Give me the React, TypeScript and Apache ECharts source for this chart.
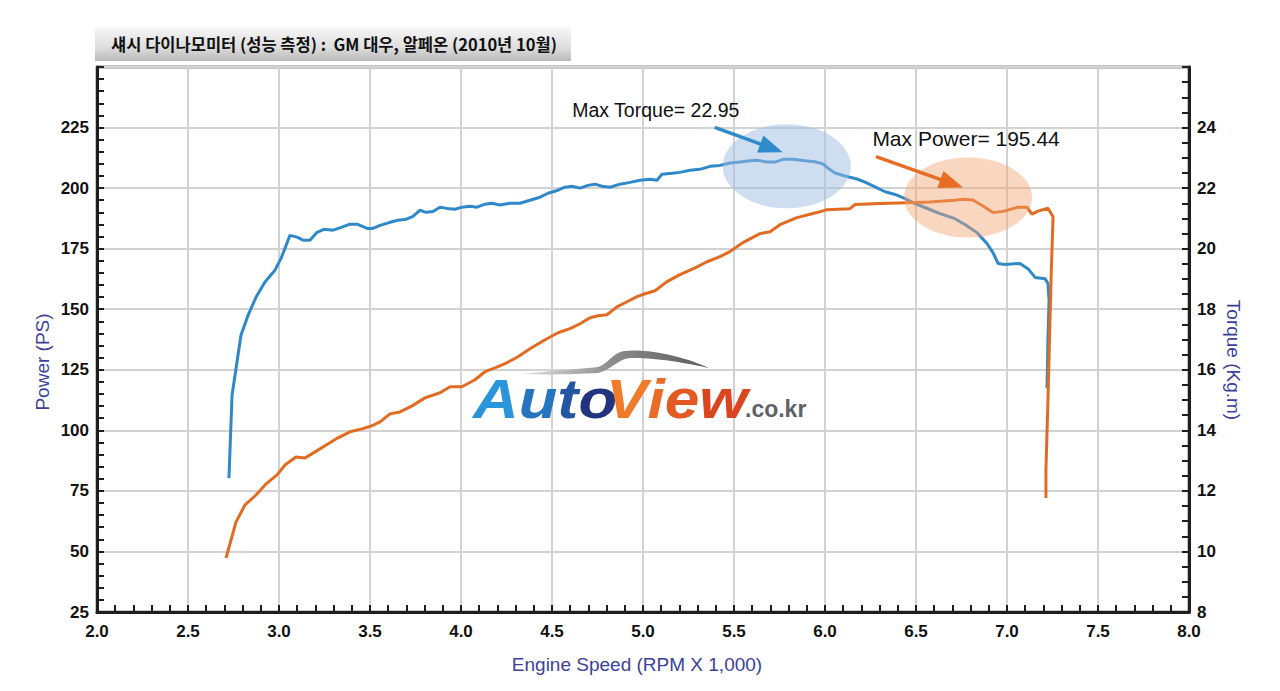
import React, { useEffect, useRef } from "react";
import * as echarts from "echarts";

const titleText = "섀시 다이나모미터 (성능 측정) :  GM 대우, 알페온 (2010년 10월)";
const xAxisName = "Engine Speed (RPM X 1,000)";
const powerAxisName = "Power (PS)";
const torqueAxisName = "Torque (Kg.m)";
const maxTorqueLabel = "Max Torque= 22.95";
const maxPowerLabel = "Max Power= 195.44";

const torqueRpm = [
  2.725, 2.742, 2.769, 2.791, 2.83, 2.874, 2.923, 2.978, 3.011, 3.033, 3.06, 3.099, 3.132, 3.17,
  3.209, 3.247, 3.297, 3.346, 3.39, 3.429, 3.484, 3.516, 3.555, 3.61, 3.654, 3.698, 3.736, 3.775,
  3.808, 3.846, 3.885, 3.923, 3.967, 4.005, 4.049, 4.088, 4.132, 4.17, 4.214, 4.269, 4.324, 4.379,
  4.434, 4.478, 4.533, 4.571, 4.61, 4.654, 4.698, 4.736, 4.775, 4.819, 4.874, 4.929, 4.984, 5.038,
  5.077, 5.104, 5.159, 5.203, 5.258, 5.313, 5.368, 5.423, 5.478, 5.533, 5.588, 5.626, 5.681, 5.725,
  5.769, 5.824, 5.89, 5.945, 5.989, 6.016, 6.055, 6.11, 6.176, 6.22, 6.275, 6.33, 6.385, 6.44,
  6.495, 6.549, 6.632, 6.714, 6.769, 6.835, 6.89, 6.923, 6.951, 6.989, 7.071, 7.115, 7.154, 7.209,
  7.225, 7.231, 7.225, 7.22,
];
const torqueVal = [
  12.42, 15.16, 16.25, 17.14, 17.8, 18.4, 18.9, 19.29, 19.68, 20.01, 20.44, 20.38, 20.28, 20.28,
  20.54, 20.64, 20.61, 20.71, 20.81, 20.81, 20.67, 20.67, 20.77, 20.87, 20.94, 20.97, 21.07, 21.27,
  21.2, 21.23, 21.37, 21.33, 21.3, 21.37, 21.4, 21.37, 21.47, 21.5, 21.44, 21.5, 21.5, 21.6,
  21.7, 21.83, 21.93, 22.03, 22.06, 22.0, 22.09, 22.13, 22.06, 22.03, 22.13, 22.19, 22.26, 22.29,
  22.26, 22.46, 22.49, 22.52, 22.59, 22.62, 22.72, 22.75, 22.83, 22.86, 22.9, 22.92, 22.86, 22.86,
  22.95, 22.95, 22.9, 22.87, 22.8, 22.66, 22.5, 22.4, 22.3, 22.2, 22.04, 21.88, 21.79, 21.65,
  21.49, 21.36, 21.16, 20.99, 20.8, 20.53, 20.17, 19.87, 19.51, 19.48, 19.51, 19.34, 19.05, 19.01,
  18.85, 18.3, 16.98, 15.39,
];

const powerRpm = [
  2.709, 2.764, 2.813, 2.874, 2.929, 2.989, 3.033, 3.093, 3.143, 3.198, 3.253, 3.324, 3.39, 3.456,
  3.511, 3.555, 3.61, 3.665, 3.731, 3.802, 3.885, 3.94, 4.005, 4.077, 4.132, 4.187, 4.242, 4.313,
  4.379, 4.462, 4.533, 4.599, 4.654, 4.709, 4.753, 4.802, 4.857, 4.912, 4.967, 5.011, 5.066, 5.132,
  5.203, 5.286, 5.352, 5.423, 5.478, 5.549, 5.643, 5.698, 5.753, 5.846, 5.956, 6.011, 6.137, 6.165,
  6.302, 6.451, 6.577, 6.632, 6.714, 6.758, 6.813, 6.868, 6.923, 6.978, 7.06, 7.11, 7.137, 7.17,
  7.225, 7.253, 7.242, 7.225, 7.214, 7.214,
];
const powerVal = [
  47.3, 62.2, 69.2, 73.3, 77.9, 81.6, 85.7, 89.0, 88.6, 91.1, 93.6, 96.9, 99.4, 100.6,
  101.9, 103.5, 106.8, 107.6, 110.1, 113.4, 115.5, 118.0, 118.0, 120.9, 124.2, 125.8, 127.5, 130.4,
  133.7, 137.4, 140.3, 142.0, 144.0, 146.5, 147.3, 147.7, 151.0, 153.1, 155.2, 156.4, 157.6, 161.4,
  164.3, 167.1, 169.6, 171.7, 173.8, 177.5, 181.2, 182.0, 184.9, 187.8, 189.9, 191.1, 191.5, 193.2,
  193.6, 194.0, 194.3, 194.6, 195.0, 195.44, 195.1, 192.6, 189.9, 190.4, 192.1, 192.1, 189.3, 190.5,
  191.7, 188.2, 162.2, 112.6, 83.7, 72.1,
];

const torqueMarker = [5.79, 22.72];
const powerMarker = [6.786, 196.1];

const navy = "#3a429c";
const blue = "#2f89c9";
const orange = "#e26b22";
const labelFont = "'Liberation Sans', Arial, sans-serif";

function arrow(x1: number, y1: number, x2: number, y2: number, color: string) {
  const dx = x2 - x1;
  const dy = y2 - y1;
  const len = Math.sqrt(dx * dx + dy * dy);
  const ux = dx / len;
  const uy = dy / len;
  const nx = -uy;
  const ny = ux;
  const hl = 24;
  const hw = 9;
  const bx = x2 - ux * hl;
  const by = y2 - uy * hl;
  return [
    {
      type: "line",
      z: 120,
      shape: { x1, y1, x2: bx + ux * 2, y2: by + uy * 2 },
      style: { stroke: color, lineWidth: 3.5 },
    },
    {
      type: "polygon",
      z: 120,
      shape: {
        points: [
          [x2, y2],
          [bx + nx * hw, by + ny * hw],
          [bx - nx * hw, by - ny * hw],
        ],
      },
      style: { fill: color },
    },
  ];
}

const logoFont = "italic bold 56px 'Liberation Sans', Arial, sans-serif";

export default function App() {
  const ref = useRef<HTMLDivElement>(null);

  useEffect(() => {
    document.body.style.margin = "0";
    if (!ref.current) return;
    const chart = echarts.init(ref.current, null, { renderer: "svg" });

    const swooshD =
      "M520,374 C550,371 580,369 598,367 C608,364 612,353 624,351 C650,348 688,358 709,368 C688,363 652,357 630,358 C618,359 611,370 598,373 C580,374 550,375 520,374 Z";
    echarts.graphic.registerShape("swoosh", echarts.graphic.extendPath(swooshD, {}));

    const torqueData = torqueRpm.map((r, i) => [r, torqueVal[i]]);
    const powerData = powerRpm.map((r, i) => [r, powerVal[i]]);

    chart.setOption({
      animation: false,
      backgroundColor: "#ffffff",
      grid: {
        left: 97,
        right: 91,
        top: 67,
        bottom: 79,
        show: true,
        borderColor: "#1e1e1e",
        borderWidth: 2.5,
        backgroundColor: "transparent",
      },
      xAxis: {
        type: "value",
        min: 2,
        max: 8,
        interval: 0.5,
        axisLine: { show: true, lineStyle: { color: "#1e1e1e", width: 3 } },
        axisTick: { show: true, inside: true, length: 7, lineStyle: { color: "#1e1e1e", width: 2 } },
        minorTick: { show: true, splitNumber: 5, length: 7, lineStyle: { color: "#1e1e1e", width: 2 } },
        axisLabel: {
          color: "#111",
          fontSize: 17,
          fontWeight: "bold",
          fontFamily: labelFont,
          margin: 11,
          formatter: (v: number) => v.toFixed(1),
        },
        splitLine: { show: true, lineStyle: { color: "#d2d2d2", width: 2 } },
      },
      yAxis: [
        {
          type: "value",
          min: 25,
          max: 250,
          interval: 25,
          position: "left",
          axisLine: { show: true, lineStyle: { color: "#1e1e1e", width: 3 } },
          axisTick: { show: true, inside: true, length: 7, lineStyle: { color: "#1e1e1e", width: 2 } },
          minorTick: { show: true, splitNumber: 5, length: 7, lineStyle: { color: "#1e1e1e", width: 2 } },
          axisLabel: {
            color: "#111",
            fontSize: 17,
            fontWeight: "bold",
            fontFamily: labelFont,
            margin: 8,
            formatter: (v: number) => (v >= 250 ? "" : String(v)),
          },
          splitLine: { show: true, lineStyle: { color: "#d2d2d2", width: 2 } },
        },
        {
          type: "value",
          min: 8,
          max: 26,
          interval: 2,
          position: "right",
          axisLine: { show: true, lineStyle: { color: "#1e1e1e", width: 3 } },
          axisTick: { show: true, inside: true, length: 7, lineStyle: { color: "#1e1e1e", width: 2 } },
          minorTick: { show: true, splitNumber: 4, length: 7, lineStyle: { color: "#1e1e1e", width: 2 } },
          axisLabel: {
            color: "#111",
            fontSize: 17,
            fontWeight: "bold",
            fontFamily: labelFont,
            margin: 8,
            formatter: (v: number) => (v >= 26 ? "" : String(v)),
          },
          splitLine: { show: false },
        },
      ],
      series: [
        {
          name: "Torque",
          type: "line",
          yAxisIndex: 1,
          data: torqueData,
          showSymbol: false,
          symbol: "none",
          smooth: false,
          lineStyle: { color: blue, width: 3 },
          z: 3,
        },
        {
          name: "Power",
          type: "line",
          yAxisIndex: 0,
          data: powerData,
          showSymbol: false,
          symbol: "none",
          smooth: false,
          lineStyle: { color: orange, width: 3 },
          z: 4,
        },
      ],
    });

    const tp = chart.convertToPixel({ xAxisIndex: 0, yAxisIndex: 1 }, torqueMarker) as number[];
    const pp = chart.convertToPixel({ xAxisIndex: 0, yAxisIndex: 0 }, powerMarker) as number[];

    const autoColors = ["#2a95d8", "#2675bf", "#2456a2", "#23347f"];
    const viewColors = ["#f07c2b", "#ea6a27", "#e25a22", "#d9451e"];

    const graphics: any[] = [
      // title box
      {
        type: "rect",
        z: 50,
        shape: { x: 95, y: 27, width: 476, height: 34 },
        style: {
          fill: new echarts.graphic.LinearGradient(0, 0, 0, 1, [
            { offset: 0, color: "#f6f6f6" },
            { offset: 0.6, color: "#dedede" },
            { offset: 1, color: "#b9b9b9" },
          ]),
        },
      },
      {
        type: "text",
        z: 51,
        x: 334,
        y: 44,
        style: {
          text: titleText,
          fill: "#111",
          font: "bold 16.5px 'Noto Sans CJK KR', sans-serif",
          align: "center",
          verticalAlign: "middle",
        },
      },
      // axis names
      {
        type: "text",
        z: 20,
        x: 637,
        y: 664,
        style: {
          text: xAxisName,
          fill: navy,
          font: "19px 'Liberation Sans', Arial, sans-serif",
          align: "center",
          verticalAlign: "middle",
        },
      },
      {
        type: "text",
        z: 20,
        x: 42,
        y: 362,
        rotation: Math.PI / 2,
        style: {
          text: powerAxisName,
          fill: navy,
          font: "19px 'Liberation Sans', Arial, sans-serif",
          align: "center",
          verticalAlign: "middle",
        },
      },
      {
        type: "text",
        z: 20,
        x: 1233,
        y: 360,
        rotation: -Math.PI / 2,
        style: {
          text: torqueAxisName,
          fill: navy,
          font: "19px 'Liberation Sans', Arial, sans-serif",
          align: "center",
          verticalAlign: "middle",
        },
      },
      // logo
      {
        type: "swoosh",
        z: 10,
        x: 0,
        y: 0,
        style: {
          fill: new echarts.graphic.LinearGradient(0, 0, 1, 0, [
            { offset: 0, color: "#e2e2e2" },
            { offset: 0.5, color: "#8a8a8a" },
            { offset: 1, color: "#5c5c5c" },
          ]),
        },
      },
      {
        type: "text",
        z: 10,
        x: 473,
        y: 371,
        scaleX: 1.13,
        style: {
          text: "{a|A}{b|u}{c|t}{d|o}",
          font: logoFont,
          rich: {
            a: { fill: autoColors[0], font: logoFont },
            b: { fill: autoColors[1], font: logoFont },
            c: { fill: autoColors[2], font: logoFont },
            d: { fill: autoColors[3], font: logoFont },
          },
          align: "left",
          verticalAlign: "top",
        },
      },
      {
        type: "text",
        z: 10,
        x: 606,
        y: 371,
        scaleX: 1.11,
        style: {
          text: "{a|V}{b|i}{c|e}{d|w}",
          font: logoFont,
          rich: {
            a: { fill: viewColors[0], font: logoFont },
            b: { fill: viewColors[1], font: logoFont },
            c: { fill: viewColors[2], font: logoFont },
            d: { fill: viewColors[3], font: logoFont },
          },
          align: "left",
          verticalAlign: "top",
        },
      },
      {
        type: "text",
        z: 10,
        x: 745,
        y: 420,
        style: {
          text: ".co.kr",
          font: "bold 23px 'Liberation Sans', Arial, sans-serif",
          fill: "#5f6166",
          align: "left",
          verticalAlign: "bottom",
        },
      },
      // annotations
      {
        type: "ellipse",
        z: 100,
        shape: { cx: tp[0], cy: tp[1], rx: 64, ry: 42 },
        style: { fill: "#9fbbe2", opacity: 0.5 },
      },
      {
        type: "ellipse",
        z: 100,
        shape: { cx: pp[0], cy: pp[1], rx: 64, ry: 40 },
        style: { fill: "#f1a470", opacity: 0.45 },
      },
      ...arrow(tp[0] - 72, tp[1] - 39, tp[0] - 4, tp[1] - 14, "#2f8ccc"),
      ...arrow(pp[0] - 92, pp[1] - 41, pp[0] - 5, pp[1] - 10, "#e86d24"),
      {
        type: "text",
        z: 120,
        x: tp[0] - 131,
        y: tp[1] - 56,
        style: {
          text: maxTorqueLabel,
          font: "19.5px 'Liberation Sans', Arial, sans-serif",
          fill: "#111",
          align: "center",
          verticalAlign: "middle",
        },
      },
      {
        type: "text",
        z: 120,
        x: pp[0] - 2,
        y: pp[1] - 59,
        style: {
          text: maxPowerLabel,
          font: "21px 'Liberation Sans', Arial, sans-serif",
          fill: "#111",
          align: "center",
          verticalAlign: "middle",
        },
      },
    ];

    chart.setOption({ graphic: graphics });

    return () => {
      chart.dispose();
    };
  }, []);

  return <div ref={ref} style={{ width: 1280, height: 691 }} />;
}
